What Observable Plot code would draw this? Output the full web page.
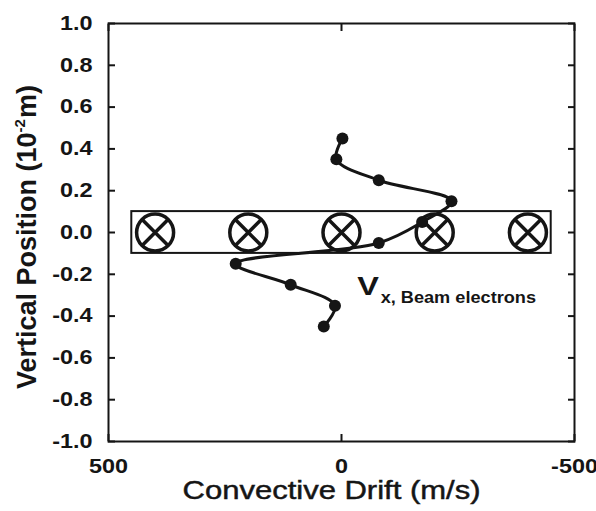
<!DOCTYPE html>
<html><head><meta charset="utf-8">
<script src="https://cdn.jsdelivr.net/npm/d3@7"></script>
<script src="https://cdn.jsdelivr.net/npm/@observablehq/plot@0.6"></script>
<style>body{margin:0;background:#fff} svg{display:block}</style>
</head><body><div id="chart"></div>
<script>
// Measured beam-electron drift profile
const drift = [-2, 11, -80, -236, -173, -80, 227, 109, 14, 38];
const position = [0.45, 0.35, 0.25, 0.15, 0.05, -0.05, -0.15, -0.25, -0.35, -0.45];
// Beam cross-section markers (current into page)
const beamX = [400, 200, 0, -200, -400];
const beamY = [0, 0, 0, 0, 0];
const beamBoxX = [450, -450];
const beamBoxY = [-0.1, 0.1];
// Axes
const xDomain = [500, -500];
const yDomain = [-1, 1];
const xTicks = [500, 0, -500];
const yTicks = [-1, -0.8, -0.6, -0.4, -0.2, 0, 0.2, 0.4, 0.6, 0.8, 1];
// Text
const xLabel = "Convective Drift (m/s)";
const yLabelParts = ["Vertical Position (10", "-2", "m)"];
const annMain = ["V"];
const annMainPos = [-34, -0.30];
const annSub = ["x, Beam electrons"];
const annSubPos = [-84, -0.338];

const points = drift.map((x, i) => ({x, y: position[i]}));
const beam = beamX.map((x, i) => ({x, y: beamY[i]}));
const box = [{x1: beamBoxX[0], x2: beamBoxX[1], y1: beamBoxY[0], y2: beamBoxY[1]}];
const ink = "#151515";
const xFmt = d => String(d);
const yFmt = d => d.toFixed(1);

const plot = Plot.plot({
  width: 596, height: 511,
  marginLeft: 108, marginRight: 22, marginTop: 23, marginBottom: 70,
  style: {fontFamily: "'Liberation Sans', Arial, sans-serif", color: ink, background: "#fff"},
  x: {domain: xDomain},
  y: {domain: yDomain},
  marks: [
    Plot.rect(box, {x1: "x1", x2: "x2", y1: "y1", y2: "y2", fill: "none", stroke: ink, strokeWidth: 2}),
    Plot.dot(beam, {x: "x", y: "y", r: 18.5, stroke: ink, strokeWidth: 3.5, fill: "white"}),
    Plot.dot(beam, {x: "x", y: "y", r: 12.3, symbol: "times", stroke: ink, strokeWidth: 3.5}),
    Plot.line(points, {x: "x", y: "y", curve: "catmull-rom", stroke: ink, strokeWidth: 3}),
    Plot.dot(points, {x: "x", y: "y", r: 6, fill: ink, stroke: "none"}),
    Plot.text(annMain, {x: () => annMainPos[0], y: () => annMainPos[1], textAnchor: "start", lineAnchor: "bottom", fontSize: 25, fontWeight: "bold", fill: ink}),
    Plot.text(annSub, {x: () => annSubPos[0], y: () => annSubPos[1], textAnchor: "start", lineAnchor: "bottom", fontSize: 16.5, fontWeight: "bold", fill: ink}),
    Plot.axisY({anchor: "left", ticks: yTicks, tickSize: -7, tickPadding: 23, tickFormat: yFmt, fontSize: 19.5, fontWeight: "bold", label: null, strokeWidth: 2}),
    Plot.axisY({anchor: "right", ticks: yTicks, tickSize: -7, tickFormat: () => "", label: null, strokeWidth: 2}),
    Plot.axisX({anchor: "bottom", ticks: xTicks, tickSize: -7, tickPadding: 25, tickFormat: xFmt, fontSize: 19.5, fontWeight: "bold", label: null, strokeWidth: 2}),
    Plot.axisX({anchor: "top", ticks: xTicks, tickSize: -7, tickFormat: () => "", label: null, strokeWidth: 2}),
    Plot.text([xLabel], {frameAnchor: "bottom", dy: 57, dx: -10, lineAnchor: "bottom", fontSize: 25, fill: ink}),
    Plot.frame({stroke: ink, strokeWidth: 2})
  ]
});
document.getElementById("chart").append(plot);

const svg = d3.select(plot);
const tickStrings = new Set([...xTicks.map(xFmt), ...yTicks.map(yFmt)]);
const factorFor = s => {
  if (s === xLabel) return 1.24;
  if (s === annMain[0]) return 1.3;
  if (s === annSub[0]) return 1.1;
  if (tickStrings.has(s)) return 1.2;
  return 1;
};
svg.selectAll("text").each(function () {
  const s = this.textContent.trim();
  const f = factorFor(s);
  if (f === 1) return;
  if (s === xLabel) {
    this.setAttribute("stroke", ink);
    this.setAttribute("stroke-width", 0.45);
    this.setAttribute("paint-order", "normal");
  }
  const L = this.getComputedTextLength();
  if (L > 0) {
    this.setAttribute("textLength", L * f);
    this.setAttribute("lengthAdjust", "spacingAndGlyphs");
  }
});

// Y-axis title with superscript
const yScale = plot.scale("y");
const yc = (yScale.range[0] + yScale.range[1]) / 2 + 5;
const yl = svg.append("text")
  .attr("transform", `translate(36,${yc}) rotate(-90)`)
  .attr("text-anchor", "middle")
  .attr("font-size", 27).attr("font-weight", "bold").attr("fill", ink);
yl.append("tspan").text(yLabelParts[0]);
yl.append("tspan").attr("font-size", 15).attr("dy", -11).text(yLabelParts[1]);
yl.append("tspan").attr("dy", 11).attr("dx", 1).text(yLabelParts[2]);
</script>
</body></html>
